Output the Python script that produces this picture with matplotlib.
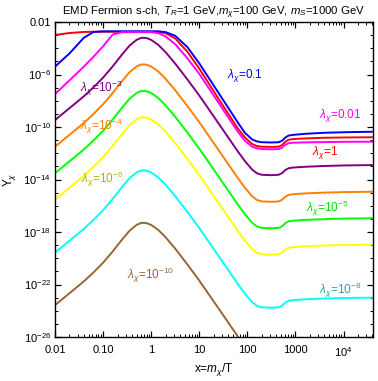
import numpy as np
import matplotlib
matplotlib.use("Agg")
import matplotlib.pyplot as plt
from matplotlib.ticker import FixedLocator, LogLocator, NullFormatter

plt.rcParams['font.family'] = ['Liberation Sans', 'DejaVu Sans']
plt.rcParams['mathtext.fontset'] = 'custom'
plt.rcParams['mathtext.rm'] = 'Liberation Sans'
plt.rcParams['mathtext.it'] = 'Liberation Sans:italic'
plt.rcParams['mathtext.bf'] = 'Liberation Sans:bold'

# log10(x) sample points, x = m_chi / T
log_x = [-2.0, -1.7, -1.4, -1.2, -1.0, -0.8, -0.6, -0.45, -0.3, -0.2, -0.1, 0.0,
         0.15, 0.3, 0.5, 0.75, 1.0, 1.4, 1.8, 1.95, 2.1, 2.2, 2.3, 2.5, 2.65,
         2.72, 2.79, 2.86, 2.95, 3.2, 3.6, 4.0, 4.61]

# log10(Y_chi), one list per coupling
logY_1 = [-2.99, -2.84, -2.76, -2.74, -2.74, -2.74, -2.74, -2.74, -2.74, -2.74, -2.74, -2.74,
          -2.76, -2.85, -3.25, -4.25, -5.55, -7.85, -10.1, -10.8, -11.3, -11.45, -11.5, -11.52, -11.5,
          -11.38, -11.12, -10.97, -10.92, -10.87, -10.82, -10.8, -10.78]
logY_01 = [-5.4, -4.4, -3.2, -2.76, -2.71, -2.71, -2.71, -2.71, -2.71, -2.71, -2.71, -2.71,
           -2.71, -2.77, -3.05, -3.9, -5.15, -7.4, -9.65, -10.45, -10.95, -11.1, -11.16, -11.18, -11.16,
           -11.05, -10.8, -10.65, -10.6, -10.52, -10.44, -10.4, -10.36]
logY_001 = [-7.49, -6.45, -5.4, -4.65, -3.85, -2.95, -2.77, -2.77, -2.77, -2.77, -2.77, -2.77,
            -2.85, -3.1, -3.7, -4.75, -5.95, -8.15, -10.35, -11.05, -11.5, -11.63, -11.68, -11.7, -11.68,
            -11.58, -11.35, -11.23, -11.2, -11.17, -11.15, -11.13, -11.12]
logY_1em3 = [-9.47, -8.57, -7.66, -6.98, -6.24, -5.38, -4.45, -3.8, -3.35, -3.2, -3.22, -3.36,
             -3.75, -4.3, -5.17, -6.36, -7.6, -9.72, -11.85, -12.6, -13.25, -13.53, -13.64, -13.67, -13.64,
             -13.52, -13.28, -13.14, -13.09, -13.03, -12.97, -12.93, -12.9]
logY_1em4 = [-11.5, -10.6, -9.69, -9.01, -8.27, -7.41, -6.48, -5.83, -5.38, -5.23, -5.25, -5.39,
             -5.78, -6.33, -7.2, -8.39, -9.63, -11.75, -13.88, -14.63, -15.28, -15.56, -15.67, -15.7, -15.67,
             -15.55, -15.31, -15.17, -15.12, -15.06, -15.0, -14.96, -14.93]
logY_1em5 = [-13.52, -12.62, -11.71, -11.03, -10.29, -9.43, -8.5, -7.85, -7.4, -7.25, -7.27, -7.41,
             -7.8, -8.35, -9.22, -10.41, -11.65, -13.77, -15.9, -16.65, -17.3, -17.58, -17.69, -17.72, -17.69,
             -17.57, -17.33, -17.19, -17.14, -17.08, -17.02, -16.98, -16.95]
logY_1em6 = [-15.53, -14.63, -13.72, -13.04, -12.3, -11.44, -10.51, -9.86, -9.41, -9.26, -9.28, -9.42,
             -9.81, -10.36, -11.23, -12.42, -13.66, -15.78, -17.91, -18.66, -19.31, -19.59, -19.7, -19.73, -19.7,
             -19.58, -19.34, -19.2, -19.15, -19.09, -19.03, -18.99, -18.96]
logY_1em8 = [-19.57, -18.67, -17.76, -17.08, -16.34, -15.48, -14.55, -13.9, -13.45, -13.3, -13.32, -13.46,
             -13.85, -14.4, -15.27, -16.46, -17.7, -19.82, -21.95, -22.7, -23.35, -23.63, -23.74, -23.77, -23.74,
             -23.62, -23.38, -23.24, -23.19, -23.13, -23.07, -23.03, -23.0]
logY_1em10 = [-23.57, -22.67, -21.76, -21.08, -20.34, -19.48, -18.55, -17.9, -17.45, -17.3, -17.32, -17.46,
              -17.85, -18.4, -19.27, -20.46, -21.7, -23.82, -25.95, -26.7, -27.35, -27.63, -27.74, -27.77, -27.74,
              -27.62, -27.38, -27.24, -27.19, -27.13, -27.07, -27.03, -27.0]

labels = ['1', '0.1', '0.01', '10$^{-3}$', '10$^{-4}$', '10$^{-5}$', '10$^{-6}$', '10$^{-8}$', '10$^{-10}$']
series = [logY_1, logY_01, logY_001, logY_1em3, logY_1em4, logY_1em5, logY_1em6, logY_1em8, logY_1em10]

x_ticks = [0.01, 0.1, 1, 10, 100, 1000, 1e4]
x_ticklabels = ['0.01', '0.10', '1', '10', '100', '1000', '10$^{4}$']
y_ticks = [1e-2, 1e-6, 1e-10, 1e-14, 1e-18, 1e-22, 1e-26]
y_ticklabels = ['0.01', '10$^{-6}$', '10$^{-10}$', '10$^{-14}$', '10$^{-18}$', '10$^{-22}$', '10$^{-26}$']

line_colors = ['#ff0000', '#0000ff', '#ff00ff', '#800080', '#ff8000', '#00ff00', '#ffff00', '#00ffff', '#996633']
text_colors = ['#ff0000', '#0000ff', '#ff00ff', '#800080', '#ff8000', '#00dd00', '#b0b000', '#20a8a8', '#996633']
# label anchor points (x, Y) in data units
label_pos = [(4200, 1.05e-12), (91, 9e-7), (8700, 8e-10), (0.091, 9.3e-8), (0.091, 1.2e-10),
             (4500, 6.8e-17), (0.095, 1.1e-14), (8700, 3.8e-23), (0.95, 5.2e-22)]

fig = plt.figure(figsize=(3.78, 3.81), dpi=100)
ax = fig.add_axes([55 / 378, 1 - 337 / 381, 318 / 378, 315 / 381])

xs = 10.0 ** np.array(log_x)
for ly, c in zip(series, line_colors):
    ax.plot(xs, 10.0 ** np.array(ly), color=c, lw=1.4, solid_capstyle='butt')

for lab, (px, py), tc in zip(labels, label_pos, text_colors):
    ax.text(px, py, r'$\lambda_\chi$=' + lab, color=tc, fontsize=8.5, ha='center', va='center')

ax.set_xscale('log')
ax.set_yscale('log')
ax.set_xlim(0.01, 4.1e4)
ax.set_ylim(1e-26, 1e-2)

ax.xaxis.set_major_locator(FixedLocator(x_ticks))
ax.set_xticklabels(x_ticklabels)
ax.xaxis.set_minor_locator(LogLocator(base=10, subs=np.arange(2, 10), numticks=100))
ax.xaxis.set_minor_formatter(NullFormatter())
ax.yaxis.set_major_locator(FixedLocator(y_ticks))
ax.set_yticklabels(y_ticklabels)
ax.yaxis.set_minor_locator(FixedLocator(10.0 ** np.arange(-26, -1)))
ax.yaxis.set_minor_formatter(NullFormatter())

ax.tick_params(which='both', direction='in', top=True, right=True, labelsize=8)
ax.tick_params(axis='y', pad=3)
ax.tick_params(axis='x', pad=6)
ax.tick_params(which='major', length=4.5, width=0.9)
ax.tick_params(which='minor', length=2.5, width=0.7)
for s in ax.spines.values():
    s.set_linewidth(1.0)

ax.set_title(r'EMD Fermion s-ch, $T_R$=1 GeV,$m_\chi$=100 GeV, $m_S$=1000 GeV', fontsize=8.2, pad=5)
ax.set_xlabel(r'x=$m_\chi$/T', fontsize=8.5, labelpad=1.5)
ax.set_ylabel(r'Y$_\chi$', fontsize=8.5, labelpad=4)

fig.savefig('out.png', dpi=100)
